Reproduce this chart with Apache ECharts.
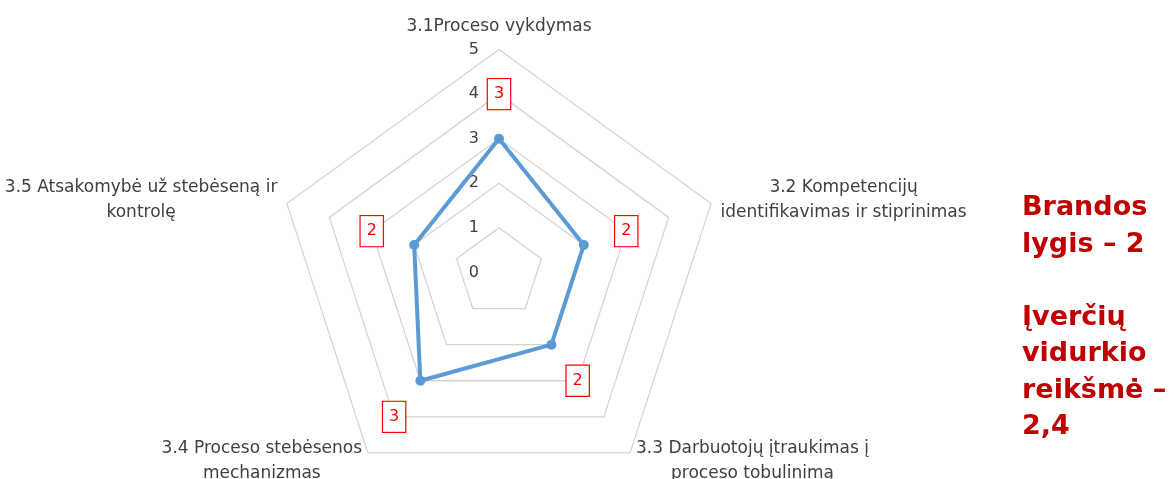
<!DOCTYPE html>
<html>
<head>
<meta charset="utf-8">
<script src="https://cdn.jsdelivr.net/npm/echarts@6/dist/echarts.min.js"></script>
<style>
  html, body { margin: 0; padding: 0; background: #fff; }
  #chart { width: 1174px; height: 479px; }
</style>
</head>
<body>
<div id="chart"></div>
<script>
var categories = [
  '3.1Proceso vykdymas',
  '3.2 Kompetencijų\nidentifikavimas ir stiprinimas',
  '3.3 Darbuotojų įtraukimas į\nproceso tobulinimą',
  '3.4 Proceso stebėsenos\nmechanizmas',
  '3.5 Atsakomybė už stebėseną ir\nkontrolę'
]
var scores = [3, 2, 2, 3, 2]
var scaleMax = 5
var noteLines = ['Brandos', 'lygis – 2', '', 'Įverčių', 'vidurkio', 'reikšmė –', '2,4']

var textColor = '#404040'
var font = 'DejaVu Sans'

// radar goes counter-clockwise, the original goes clockwise -> keep first, reverse the rest
function clockwise(arr) {
  return [arr[0]].concat(arr.slice(1).reverse())
}

// labels sit one step further out than the point
var labelPos = scores.map(function (v) { return v + 1 })

var indicators = clockwise(categories).map(function (name, i) {
  var ind = { name: name, min: 0, max: scaleMax }
  if (i === 0) {
    ind.axisLabel = { show: true }
  }
  return ind
})

var chart = echarts.init(document.getElementById('chart'))
var option = {
  animation: false,
  title: {
    text: noteLines.join('\n'),
    left: 1022,
    top: 190,
    padding: 0,
    textStyle: {
      fontFamily: font,
      fontSize: 27,
      fontWeight: 'bold',
      color: '#c00000',
      lineHeight: 36.5
    }
  },
  radar: {
    center: [499, 272.5],
    radius: 223,
    startAngle: 90,
    splitNumber: 5,
    shape: 'polygon',
    indicator: indicators,
    axisNameGap: 10,
    axisName: {
      formatter: function (name) {
        return '{a|' + name + '}'
      },
      rich: {
        a: {
          align: 'center',
          fontFamily: font,
          fontSize: 17,
          lineHeight: 25,
          color: textColor
        }
      }
    },
    axisLine: { show: false },
    axisTick: { show: false },
    axisLabel: {
      show: false,
      margin: 20,
      fontFamily: font,
      fontSize: 16,
      color: textColor
    },
    splitArea: { show: false },
    splitLine: {
      lineStyle: {
        color: '#d4d4d4',
        width: 1.3
      }
    }
  },
  series: [
    {
      name: 'Įverčiai',
      type: 'radar',
      symbol: 'circle',
      symbolSize: 10,
      lineStyle: { color: '#5b9bd5', width: 4 },
      itemStyle: { color: '#5b9bd5' },
      data: [{ value: clockwise(scores) }]
    },
    {
      name: 'labels',
      type: 'radar',
      symbol: 'circle',
      symbolSize: 1,
      lineStyle: { opacity: 0, width: 0 },
      itemStyle: { color: 'rgba(0,0,0,0)' },
      label: {
        show: true,
        position: 'inside',
        formatter: function (p) {
          return p.value - 1
        },
        fontFamily: font,
        fontSize: 16,
        lineHeight: 18,
        color: '#ff0000',
        backgroundColor: '#fff',
        borderColor: '#ff0000',
        borderWidth: 1.2,
        padding: [6, 6]
      },
      data: [{ value: clockwise(labelPos) }]
    }
  ]
}
chart.setOption(option)
</script>
</body>
</html>
